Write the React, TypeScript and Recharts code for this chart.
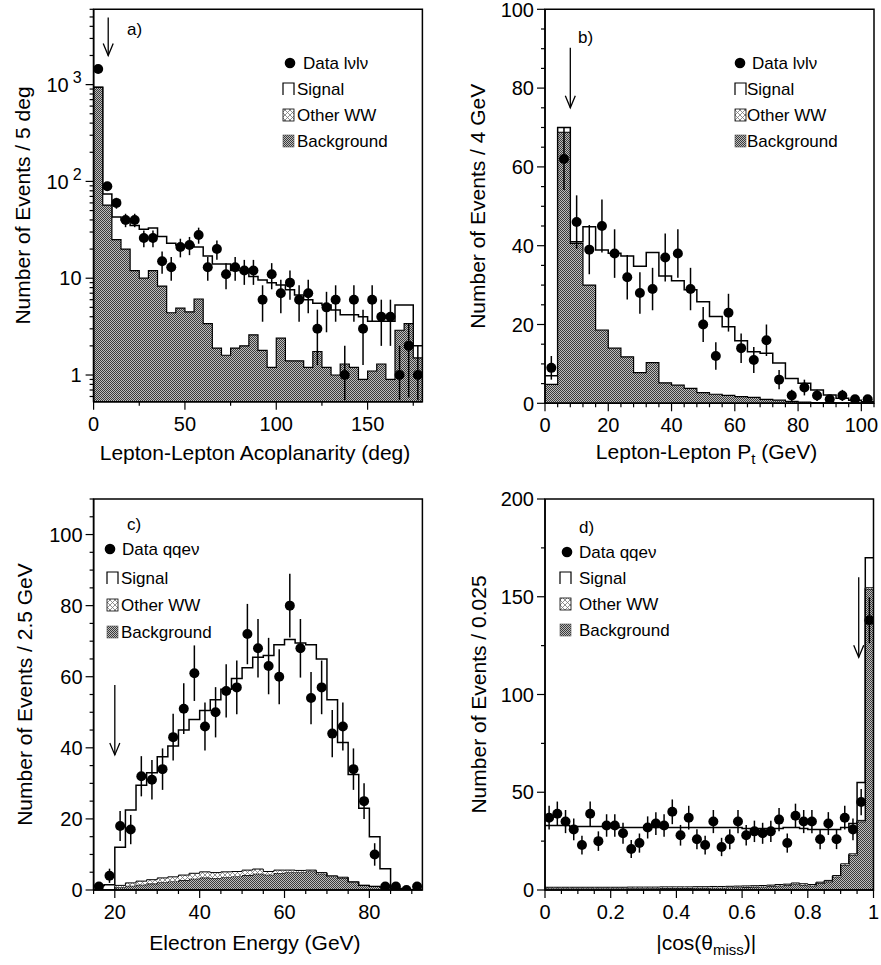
import React from "react";
import {
  ComposedChart,
  Area,
  Scatter,
  ErrorBar,
  XAxis,
  YAxis,
  ReferenceArea,
  ReferenceDot,
  Label,
} from "recharts";

const FONT = "'Liberation Sans', Arial, Helvetica, sans-serif";

// a) lepton-lepton acoplanarity, 5 deg bins starting at 0
const acoStart = 0;
const acoWidth = 5;
const acoData = [1450, 89, 60, 40, 40, 26, 26, 15, 13, 21, 22, 28, 13, 20, 11, 13, 12, 12, 6, 11, 7, 9, 6, 7, 3, 5, 6, 1, 6, 3, 6, 4, 4, 1, 2, 1];
const acoTotal = [940, 74, 43, 40, 35, 32, 33, 27, 23, 22, 22, 21, 17, 14, 14, 12, 12, 10.4, 9.6, 9.0, 8.5, 7.6, 6.7, 6.0, 5.5, 5.3, 4.7, 4.2, 4.2, 4.0, 3.6, 3.6, 3.6, 5.3, 5.3, 2.0];
const acoBackground = [935, 57, 25, 20, 12, 10, 12, 8.3, 4.4, 4.9, 4.5, 6.1, 3.4, 1.9, 1.6, 1.9, 2.0, 2.6, 1.8, 1.2, 2.4, 1.4, 1.4, 1.2, 1.75, 1.2, 1.0, 1.3, 1.2, 0.9, 1.1, 1.3, 0.9, 2.9, 3.4, 1.5];

// b) lepton-lepton Pt, 4 GeV bins
const ptStart = 0;
const ptWidth = 4;
const ptData = [9, 62, 46, 39, 45, 38, 32, 28, 29, 37, 38, 29, 20, 12, 23, 14, 11, 16, 6, 2, 4, 2, 1, 2, 1, 1];
const ptTotal = [7, 70, 41, 44.8, 38.9, 38.1, 37.4, 34.8, 38.3, 32.3, 31.1, 28.8, 25.8, 22.0, 19.4, 15.9, 13.1, 12.7, 10.2, 6.3, 5.1, 3.4, 2.1, 1.3, 0.8, 0.4];
const ptBackground = [4.8, 68.8, 40.6, 30.0, 18.6, 14.0, 11.8, 7.8, 10.3, 5.2, 4.6, 3.8, 2.7, 2.3, 2.0, 1.7, 1.5, 1.0, 0.8, 0.5, 0.3, 0.2, 0.2, 0.1, 0.1, 0.1];

// c) electron energy, 2.5 GeV bins from 15
const eeStart = 15;
const eeWidth = 2.5;
const eeData = [1, 4, 18, 17, 32, 31, 34, 43, 51, 61, 46, 50, 56, 57, 72, 68, 63, 60, 80, 68, 54, 57, 44, 46, 34, 25, 10, 1, 1, 0, 1];
const eeTotal = [1.3, 1.5, 12, 22.5, 29.5, 33, 37.5, 40.5, 45, 48, 50.5, 53.5, 56.5, 59.5, 62.5, 65.5, 66, 69, 70.5, 69.5, 69, 65, 53.5, 41.5, 32.5, 23, 15, 6, 0.4, 0, 0];
const eeBackground = [0, 0, 0.8, 1.2, 1.5, 1.8, 2.2, 2.4, 2.8, 3.2, 3.5, 3.4, 3.6, 3.8, 4.2, 4.6, 4.3, 4.8, 5.0, 5.0, 5.2, 4.6, 3.8, 3.4, 2.2, 1.3, 1.0, 0.8, 0.3, 0, 0];
const eeOtherWW = [0, 0, 0.5, 0.8, 1.0, 1.1, 1.2, 1.3, 1.4, 1.5, 1.6, 1.5, 1.5, 1.4, 1.4, 1.3, 0.9, 0.8, 0.6, 0.5, 0.4, 0.3, 0.2, 0.2, 0.1, 0, 0, 0, 0, 0, 0];

// d) |cos(theta_miss)|, 0.025 bins
const cosStart = 0;
const cosWidth = 0.025;
const cosData = [37, 39, 35, 31, 23, 39, 25, 33, 33, 29, 21, 24, 32, 34, 33, 40, 28, 37, 26, 23, 35, 22, 26, 35, 28, 30, 29, 30, 36, 24, 38, 35, 35, 26, 34, 26, 37, 31, 45, 138];
const cosTotal = [33, 33, 33, 32.5, 32.5, 32.5, 32.5, 32.5, 32.5, 32, 32, 32, 32, 32, 32, 32, 32, 32, 32, 32, 32, 32, 32, 32, 31.5, 31.5, 31.5, 31.5, 31.5, 32, 32, 31.5, 31, 31, 31, 31, 32, 34, 55, 170];
const cosBackground = [0.8, 0.8, 0.8, 0.8, 0.8, 0.8, 0.8, 0.8, 0.8, 0.8, 0.9, 0.9, 0.9, 0.9, 1.0, 1.0, 1.0, 1.0, 1.1, 1.1, 1.2, 1.2, 1.3, 1.4, 1.5, 1.6, 1.7, 1.9, 2.2, 2.4, 3.0, 2.6, 2.2, 3.4, 4.3, 6.8, 12.8, 17.9, 35, 154];
const cosOtherWW = [0.6, 0.6, 0.6, 0.6, 0.6, 0.6, 0.6, 0.6, 0.6, 0.6, 0.6, 0.6, 0.6, 0.6, 0.6, 0.6, 0.6, 0.6, 0.6, 0.6, 0.6, 0.6, 0.6, 0.6, 0.6, 0.6, 0.6, 0.6, 0.6, 0.6, 0.6, 0.6, 0.6, 0.6, 0.6, 0.6, 0.6, 0.6, 0.6, 0.6];

const range = (from: number, to: number, step: number) => {
  const out: number[] = [];
  for (let i = 0; from + i * step <= to + 1e-9; i++) out.push(+(from + i * step).toFixed(4));
  return out;
};
const isIn = (v: number, list: number[]) => list.some((m) => Math.abs(m - v) < 1e-6);

// bin edges table for step areas (last edge repeats the last bin)
function histRows(start: number, width: number, series: Record<string, number[]>) {
  const keys = Object.keys(series);
  const n = series[keys[0]].length;
  const rows: Record<string, number>[] = [];
  for (let k = 0; k <= n; k++) {
    const row: Record<string, number> = { x: start + k * width };
    keys.forEach((key) => {
      row[key] = series[key][Math.min(k, n - 1)];
    });
    rows.push(row);
  }
  return rows;
}

// data points at bin centres, poisson error bars
function pointRows(start: number, width: number, counts: number[], floor = 0) {
  return counts.map((c, k) => {
    const e = Math.sqrt(c);
    return { x: start + (k + 0.5) * width, y: c, err: [Math.min(e, c - floor), e] };
  });
}

const logTicks = [0.6, 0.7, 0.8, 0.9, 1, 2, 3, 4, 5, 6, 7, 8, 9, 10, 20, 30, 40, 50, 60, 70, 80, 90, 100, 200, 300, 400, 500, 600, 700, 800, 900, 1000, 2000, 3000, 4000, 5000, 6000];

const XTick = (props: any) => {
  const { x, y, payload, major, fmt } = props;
  const big = isIn(payload.value, major);
  return (
    <g>
      <line x1={x} x2={x} y1={y} y2={y + (big ? 8 : 4)} stroke="#000" strokeWidth={1.2} />
      {big && (
        <text x={x} y={y + 29} textAnchor="middle" fontSize={20} fontFamily={FONT} fill="#000">
          {fmt(payload.value)}
        </text>
      )}
    </g>
  );
};

const YTick = (props: any) => {
  const { x, y, payload, major, fmt, gap } = props;
  const big = isIn(payload.value, major);
  return (
    <g>
      <line x1={x - (big ? 8 : 4)} x2={x} y1={y} y2={y} stroke="#000" strokeWidth={1.2} />
      {big && (
        <text x={x - gap} y={y} dy="0.36em" textAnchor="end" fontSize={20} fontFamily={FONT} fill="#000">
          {fmt(payload.value)}
        </text>
      )}
    </g>
  );
};

const plainFmt = (v: number) => String(v);
const logFmt = (v: number) =>
  v < 50 ? (
    String(v)
  ) : (
    <>
      <tspan>10</tspan>
      <tspan dx={4} dy={-9} fontSize={16}>
        {Math.round(Math.log10(v))}
      </tspan>
    </>
  );
const cosFmt = (v: number) => (v === 0 ? "0" : v === 1 ? "1" : v.toFixed(1));

const arrowShape = (len: number) => (p: any) => (
  <g stroke="#000" strokeWidth={1.3} fill="none">
    <line x1={p.cx} x2={p.cx} y1={p.cy - len} y2={p.cy} />
    <polyline points={`${p.cx - 5},${p.cy - 12} ${p.cx},${p.cy} ${p.cx + 5},${p.cy - 12}`} />
  </g>
);

const dotShape = (p: any) => <circle cx={p.cx} cy={p.cy} r={5} fill="#000" />;

interface PanelProps {
  left: number;
  top: number;
  width: number;
  height: number;
  plot: { left: number; right: number; top: number; bottom: number };
  rows: Record<string, number>[];
  points: { x: number; y: number; err: number[] }[];
  other?: boolean;
  log?: boolean;
  xDomain: [number, number];
  xTicks: number[];
  xMajor: number[];
  xFmt: (v: number) => React.ReactNode;
  yDomain: [number, number];
  yTicks: number[];
  yMajor: number[];
  yFmt: (v: number) => React.ReactNode;
  yGap: number;
  arrow: { x: number; y: number; len: number };
  yTitle: string;
  yTitleX: number;
  xTitle: React.ReactNode;
  xTitleDy: number;
}

function Panel(p: PanelProps) {
  const { plot } = p;
  return (
    <div style={{ position: "absolute", left: p.left, top: p.top }}>
      <ComposedChart
        width={p.width}
        height={p.height}
        data={p.rows}
        margin={{ top: plot.top, right: p.width - plot.right, bottom: 0, left: 0 }}
      >
        <XAxis
          dataKey="x"
          type="number"
          domain={p.xDomain}
          allowDataOverflow
          ticks={p.xTicks}
          interval={0}
          tickSize={0}
          tickMargin={0}
          tickLine={false}
          height={p.height - plot.bottom}
          axisLine={{ stroke: "#000", strokeWidth: 1.5 }}
          tick={<XTick major={p.xMajor} fmt={p.xFmt} />}
        >
          <Label
            content={(lp: any) => (
              <text
                x={lp.viewBox.x + lp.viewBox.width / 2 - 3}
                y={lp.viewBox.y + p.xTitleDy}
                textAnchor="middle"
                fontSize={21}
                fontFamily={FONT}
                fill="#000"
              >
                {p.xTitle}
              </text>
            )}
          />
        </XAxis>
        <YAxis
          type="number"
          scale={p.log ? "log" : "linear"}
          domain={p.yDomain}
          allowDataOverflow
          ticks={p.yTicks}
          interval={0}
          tickSize={0}
          tickMargin={0}
          tickLine={false}
          width={plot.left}
          axisLine={{ stroke: "#000", strokeWidth: 1.5 }}
          tick={<YTick major={p.yMajor} fmt={p.yFmt} gap={p.yGap} />}
        >
          <Label
            content={(lp: any) => {
              const cx = p.yTitleX;
              const cy = lp.viewBox.y + lp.viewBox.height / 2;
              return (
                <text
                  x={cx}
                  y={cy}
                  transform={`rotate(-90 ${cx} ${cy})`}
                  textAnchor="middle"
                  dominantBaseline="central"
                  fontSize={21}
                  fontFamily={FONT}
                  fill="#000"
                >
                  {p.yTitle}
                </text>
              );
            }}
          />
        </YAxis>
        <Area
          type="stepAfter"
          dataKey="total"
          stroke="#000"
          strokeWidth={1.5}
          fill="#fff"
          fillOpacity={1}
          baseValue={p.log ? "dataMin" : undefined}
          dot={false}
          activeDot={false}
          isAnimationActive={false}
        />
        <Area
          type="stepAfter"
          dataKey="background"
          stackId={p.other ? "mc" : undefined}
          stroke="#000"
          strokeWidth={1.2}
          fill="url(#bgFill)"
          fillOpacity={1}
          baseValue={p.log ? "dataMin" : undefined}
          dot={false}
          activeDot={false}
          isAnimationActive={false}
        />
        {p.other && (
          <Area
            type="stepAfter"
            dataKey="otherWW"
            stackId="mc"
            stroke="#000"
            strokeWidth={1}
            fill="url(#wwFill)"
            fillOpacity={1}
            dot={false}
            activeDot={false}
            isAnimationActive={false}
          />
        )}
        <Scatter data={p.points} dataKey="y" fill="#000" shape={dotShape} isAnimationActive={false}>
          <ErrorBar dataKey="err" direction="y" width={0} stroke="#000" strokeWidth={1.5} />
        </Scatter>
        <ReferenceArea
          x1={p.xDomain[0]}
          x2={p.xDomain[1]}
          y1={p.yDomain[0]}
          y2={p.yDomain[1]}
          fill="none"
          stroke="#000"
          strokeWidth={1.5}
          ifOverflow="visible"
        />
        <ReferenceDot x={p.arrow.x} y={p.arrow.y} ifOverflow="visible" shape={arrowShape(p.arrow.len)} />
      </ComposedChart>
    </div>
  );
}

interface LegendSpec {
  tag: string;
  tagX: number;
  tagY: number;
  dotX: number;
  dataX: number;
  boxX: number;
  textX: number;
  rows: number[];
  data: string;
}

const legends: LegendSpec[] = [
  { tag: "a)", tagX: 127, tagY: 35, dotX: 290, dataX: 303, boxX: 283, textX: 297, rows: [69, 95, 121, 147], data: "Data lνlν" },
  { tag: "b)", tagX: 578, tagY: 43, dotX: 740, dataX: 752, boxX: 735, textX: 747, rows: [69, 95, 121, 147], data: "Data lνlν" },
  { tag: "c)", tagX: 127, tagY: 530, dotX: 110, dataX: 122, boxX: 107, textX: 121, rows: [555, 584, 611, 638], data: "Data qqeν" },
  { tag: "d)", tagX: 579, tagY: 533, dotX: 567, dataX: 579, boxX: 560, textX: 579, rows: [558, 584, 610, 636], data: "Data qqeν" },
];

function Overlay() {
  const t = { fontSize: 17, fontFamily: FONT, fill: "#000" };
  return (
    <svg width={881} height={965} style={{ position: "absolute", left: 0, top: 0, pointerEvents: "none" }}>
      <defs>
        <pattern id="bgFill" width="2" height="2" patternUnits="userSpaceOnUse">
          <rect width="2" height="2" fill="#bdbdbd" />
          <rect x="0" y="0" width="1" height="1" fill="#3a3a3a" />
          <rect x="1" y="1" width="1" height="1" fill="#3a3a3a" />
        </pattern>
        <pattern id="wwFill" width="5" height="5" patternUnits="userSpaceOnUse">
          <rect width="5" height="5" fill="#fff" />
          <path d="M0,0 L5,5 M0,5 L5,0" stroke="#777" strokeWidth="0.8" />
        </pattern>
      </defs>
      {legends.map((l) => (
        <g key={l.tag}>
          <text x={l.tagX} y={l.tagY} {...t}>
            {l.tag}
          </text>
          <circle cx={l.dotX} cy={l.rows[0] - 6} r={5.3} fill="#000" />
          <text x={l.dataX} y={l.rows[0]} {...t}>
            {l.data}
          </text>
          <path
            d={`M${l.boxX},${l.rows[1]} V${l.rows[1] - 12} H${l.boxX + 11} V${l.rows[1]}`}
            fill="none"
            stroke="#000"
            strokeWidth={1.2}
          />
          <text x={l.textX} y={l.rows[1]} {...t}>
            Signal
          </text>
          <rect x={l.boxX} y={l.rows[2] - 12} width={11} height={12} fill="url(#wwFill)" stroke="#000" strokeWidth={0.8} />
          <text x={l.textX} y={l.rows[2]} {...t}>
            Other WW
          </text>
          <rect x={l.boxX} y={l.rows[3] - 12} width={11} height={12} fill="url(#bgFill)" stroke="#555" strokeWidth={0.6} />
          <text x={l.textX} y={l.rows[3]} {...t}>
            Background
          </text>
        </g>
      ))}
    </svg>
  );
}

export default function App() {
  return (
    <div style={{ position: "absolute", left: 0, top: 0, width: 881, height: 965, background: "#fff", fontFamily: FONT }}>
      <Panel
        left={0}
        top={0}
        width={440}
        height={470}
        plot={{ left: 93.6, right: 422.4, top: 9.3, bottom: 401.7 }}
        rows={histRows(acoStart, acoWidth, { total: acoTotal, background: acoBackground })}
        points={pointRows(acoStart, acoWidth, acoData, 0.55)}
        log
        xDomain={[0, 180]}
        xTicks={range(0, 175, 25)}
        xMajor={[0, 50, 100, 150]}
        xFmt={plainFmt}
        yDomain={[0.53, 6000]}
        yTicks={logTicks}
        yMajor={[1, 10, 100, 1000]}
        yFmt={logFmt}
        yGap={12}
        arrow={{ x: 8, y: 2000, len: 38 }}
        yTitle="Number of Events / 5 deg"
        yTitleX={22}
        xTitle="Lepton-Lepton Acoplanarity (deg)"
        xTitleDy={58}
      />
      <Panel
        left={440}
        top={0}
        width={441}
        height={470}
        plot={{ left: 105, right: 434, top: 9.3, bottom: 403.3 }}
        rows={histRows(ptStart, ptWidth, { total: ptTotal, background: ptBackground })}
        points={pointRows(ptStart, ptWidth, ptData)}
        xDomain={[0, 104]}
        xTicks={range(0, 104, 4)}
        xMajor={[0, 20, 40, 60, 80, 100]}
        xFmt={plainFmt}
        yDomain={[0, 100]}
        yTicks={range(0, 100, 5)}
        yMajor={[0, 20, 40, 60, 80, 100]}
        yFmt={plainFmt}
        yGap={11}
        arrow={{ x: 8, y: 75, len: 60 }}
        yTitle="Number of Events / 4 GeV"
        yTitleX={38}
        xTitle={
          <>
            <tspan>Lepton-Lepton P</tspan>
            <tspan dy={5} fontSize={15}>
              t
            </tspan>
            <tspan dy={-5}> (GeV)</tspan>
          </>
        }
        xTitleDy={56}
      />
      <Panel
        left={0}
        top={470}
        width={440}
        height={495}
        plot={{ left: 93.6, right: 422.4, top: 29, bottom: 420 }}
        rows={histRows(eeStart, eeWidth, { total: eeTotal, background: eeBackground, otherWW: eeOtherWW })}
        points={pointRows(eeStart, eeWidth, eeData)}
        other
        xDomain={[15, 92.5]}
        xTicks={range(15, 90, 5)}
        xMajor={[20, 40, 60, 80]}
        xFmt={plainFmt}
        yDomain={[0, 110]}
        yTicks={range(0, 110, 5)}
        yMajor={[0, 20, 40, 60, 80, 100]}
        yFmt={plainFmt}
        yGap={11}
        arrow={{ x: 20, y: 38, len: 70 }}
        yTitle="Number of Events / 2.5 GeV"
        yTitleX={24}
        xTitle="Electron Energy (GeV)"
        xTitleDy={60}
      />
      <Panel
        left={440}
        top={470}
        width={441}
        height={495}
        plot={{ left: 105, right: 433.5, top: 29, bottom: 420 }}
        rows={histRows(cosStart, cosWidth, { total: cosTotal, background: cosBackground, otherWW: cosOtherWW })}
        points={pointRows(cosStart, cosWidth, cosData)}
        other
        xDomain={[0, 1]}
        xTicks={range(0, 1, 0.05)}
        xMajor={[0, 0.2, 0.4, 0.6, 0.8, 1]}
        xFmt={cosFmt}
        yDomain={[0, 200]}
        yTicks={range(0, 200, 25)}
        yMajor={[0, 50, 100, 150, 200]}
        yFmt={plainFmt}
        yGap={11}
        arrow={{ x: 0.955, y: 119, len: 80 }}
        yTitle="Number of Events / 0.025"
        yTitleX={38}
        xTitle={
          <>
            <tspan>|cos(θ</tspan>
            <tspan dy={5} fontSize={15}>
              miss
            </tspan>
            <tspan dy={-5}>)|</tspan>
          </>
        }
        xTitleDy={60}
      />
      <Overlay />
    </div>
  );
}
